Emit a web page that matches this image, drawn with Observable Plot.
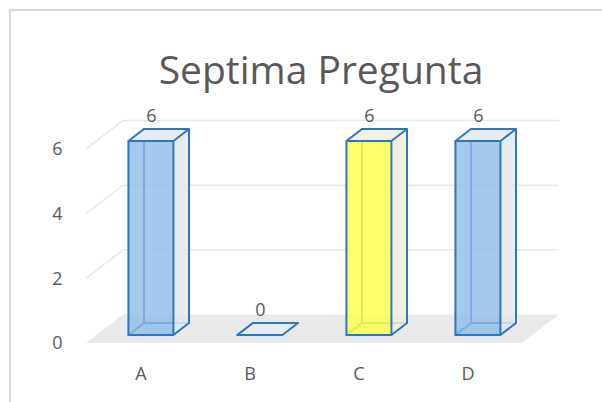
<!DOCTYPE html>
<html>
<head>
<meta charset="utf-8">
<script src="https://cdn.jsdelivr.net/npm/d3@7"></script>
<script src="https://cdn.jsdelivr.net/npm/@observablehq/plot@0.6"></script>
<style>
  html, body { margin: 0; padding: 0; background: #fff; }
  #chart { position: relative; width: 602px; height: 402px; overflow: hidden; font-family: "Open Sans", sans-serif; }
  #frame { position: absolute; left: 9px; top: 9px; width: 800px; height: 600px;
           border-left: 2px solid #d9d9d9; border-top: 2px solid #d9d9d9; }
  #title { position: absolute; left: 0; top: 49px; width: 642px; text-align: center;
           font-size: 39px; line-height: 1; color: #595959; white-space: nowrap; }
  #chart svg { position: absolute; left: 0; top: 0; }
</style>
</head>
<body>
<div id="chart">
  <div id="frame"></div>
  <div id="title"></div>
</div>
<script>
// Chart content
const chartTitle = "Septima Pregunta";
const categories = ["A", "B", "C", "D"];
const answers = [6, 0, 6, 6];
const yTicks = [0, 2, 4, 6];

const data = categories.map((cat, i) => ({cat, value: answers[i]}));

// Pseudo-3D geometry (pixels): depth runs up and to the right
const SLANT = 1.3;        // horizontal shift per pixel of depth
const BAR_FRONT = 8;      // depth of the front face of each column
const BAR_BACK = 20;      // depth of the back face of each column
const FLOOR_DEPTH = 28.5; // depth of the floor / back wall
const BAR_INSET = 32;     // gap between band edge and column

const EDGE = "#2f77bc";
const styleFor = cat => cat === "C"
  ? {front: "#ffff50", frontOpacity: 0.85, side: "#eeeedd", top: "#f2f2e4"}
  : {front: "#8dbbe8", frontOpacity: 0.8, side: "#e3e8ee", top: "#e6ecf2"};

function scene(index, {x, y}) {
  const bw = x.bandwidth();
  const proj = (px, py, d) => [px + SLANT * d, py - d];
  const poly = pts => "M" + pts.map(p => p.join(",")).join("L") + "Z";
  const seg = (a, b) => "M" + a.join(",") + "L" + b.join(",");
  const g = d3.create("svg:g");

  const left = x(categories[0]);
  const right = x(categories[categories.length - 1]) + bw;
  const base = y(0);

  // back wall + side wall gridlines
  for (const t of yTicks.filter(t => t > 0)) {
    const yy = y(t);
    g.append("path")
      .attr("d", "M" + proj(left, yy, 0).join(",") + "L" + proj(left, yy, FLOOR_DEPTH).join(",") +
                 "L" + proj(right, yy, FLOOR_DEPTH).join(","))
      .attr("fill", "none").attr("stroke", "#e8e8e8").attr("stroke-width", 1.5);
  }

  // floor
  g.append("path")
    .attr("d", poly([proj(left, base, 0), proj(right, base, 0), proj(right, base, FLOOR_DEPTH), proj(left, base, FLOOR_DEPTH)]))
    .attr("fill", "#e9e9e9");

  // columns
  for (const d of data) {
    const s = styleFor(d.cat);
    const xl = x(d.cat) + BAR_INSET, xr = x(d.cat) + bw - BAR_INSET;
    const y0 = y(0), yt = y(d.value);
    const FL0 = proj(xl, y0, BAR_FRONT), FR0 = proj(xr, y0, BAR_FRONT);
    const FLt = proj(xl, yt, BAR_FRONT), FRt = proj(xr, yt, BAR_FRONT);
    const BL0 = proj(xl, y0, BAR_BACK), BR0 = proj(xr, y0, BAR_BACK);
    const BLt = proj(xl, yt, BAR_BACK), BRt = proj(xr, yt, BAR_BACK);
    const bar = g.append("g")
      .attr("stroke-linejoin", "round").attr("stroke-linecap", "round");

    // hidden edges, seen through the translucent faces
    bar.append("path")
      .attr("d", seg(BL0, BR0) + seg(BL0, FL0) + seg(BL0, BLt))
      .attr("fill", "none").attr("stroke", EDGE).attr("stroke-width", 2);

    // right side and top faces
    bar.append("path").attr("d", poly([FR0, BR0, BRt, FRt]))
      .attr("fill", s.side).attr("fill-opacity", 0.85);
    bar.append("path").attr("d", poly([FLt, FRt, BRt, BLt]))
      .attr("fill", s.top);

    // front face
    bar.append("path").attr("d", poly([FL0, FR0, FRt, FLt]))
      .attr("fill", s.front).attr("fill-opacity", s.frontOpacity);

    // visible edges
    bar.append("path")
      .attr("d", poly([FL0, FR0, FRt, FLt]) + seg(FLt, BLt) + seg(BLt, BRt) + seg(BRt, FRt) +
                 seg(BRt, BR0) + seg(BR0, FR0))
      .attr("fill", "none").attr("stroke", EDGE).attr("stroke-width", 2);
  }
  return g.node();
}

document.getElementById("title").textContent = chartTitle;

const plot = Plot.plot({
  width: 602,
  height: 402,
  marginLeft: 85,
  marginRight: 80,
  marginTop: 149,
  marginBottom: 59,
  style: {fontFamily: "Open Sans, sans-serif", background: "transparent"},
  x: {type: "band", domain: categories, range: [85, 522], padding: 0},
  y: {domain: [0, 6], range: [343, 149]},
  marks: [
    scene,
    Plot.axisY(yTicks, {anchor: "left", tickSize: 0, tickPadding: 23, fontSize: 18, fill: "#595959", label: null}),
    Plot.axisX(categories, {anchor: "bottom", tickSize: 0, tickPadding: 24, fontSize: 18, fill: "#595959", label: null}),
    Plot.text(data, {x: "cat", y: "value", text: d => String(d.value), dx: SLANT * BAR_FRONT, dy: -33,
                     fontSize: 18, fill: "#595959"})
  ]
});
document.getElementById("chart").appendChild(plot);
</script>
</body>
</html>
